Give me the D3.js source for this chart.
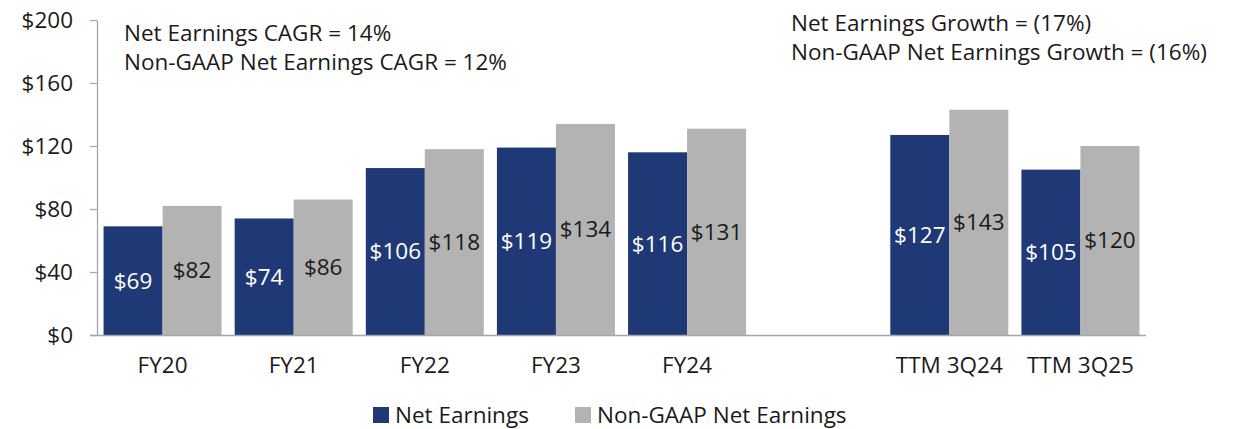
<!DOCTYPE html>
<html>
<head>
<meta charset="utf-8">
<script src="https://cdn.jsdelivr.net/npm/d3@7"></script>
<style>
  html, body { margin: 0; padding: 0; background: #fff; }
  svg { display: block; font-family: "Open Sans", sans-serif; }
</style>
</head>
<body>
<svg id="chart" width="1233" height="429"></svg>
<script>
// ---- data ----
const categories = ["FY20", "FY21", "FY22", "FY23", "FY24", "TTM 3Q24", "TTM 3Q25"];
const netEarnings = [69, 74, 106, 119, 116, 127, 105];
const nonGaapNetEarnings = [82, 86, 118, 134, 131, 143, 120];
const seriesNames = ["Net Earnings", "Non-GAAP Net Earnings"];
const yTicks = [0, 40, 80, 120, 160, 200];
const leftNotes = ["Net Earnings CAGR = 14%", "Non-GAAP Net Earnings CAGR = 12%"];
const rightNotes = ["Net Earnings Growth = (17%)", "Non-GAAP Net Earnings Growth = (16%)"];

// ---- layout ----
const svg = d3.select("#chart");
const colors = ["#1F3977", "#B3B3B3"];
const axisColor = "#A6A6A6";
const textColor = "#1A1A1A";
const fontSize = 22.5;

const GAP = "__gap__";
const xDomain = [...categories.slice(0, 5), GAP, ...categories.slice(5)];

const x = d3.scaleBand().domain(xDomain).range([97, 1146]).paddingInner(0.1).paddingOuter(0.05);
const xSub = d3.scaleBand().domain([0, 1]).range([0, x.bandwidth()]).padding(0);
const y = d3.scaleLinear().domain([0, 200]).range([335, 20]);

const rows = categories.map((c, i) => ({ cat: c, vals: [netEarnings[i], nonGaapNetEarnings[i]] }));

// bars
const groups = svg.append("g").selectAll("g").data(rows).join("g")
  .attr("transform", d => `translate(${x(d.cat)},0)`);

groups.selectAll("rect").data(d => d.vals.map((v, k) => ({ v, k }))).join("rect")
  .attr("x", d => xSub(d.k))
  .attr("width", xSub.bandwidth())
  .attr("y", d => y(d.v))
  .attr("height", d => y(0) - y(d.v))
  .attr("fill", d => colors[d.k]);

groups.selectAll("text").data(d => d.vals.map((v, k) => ({ v, k }))).join("text")
  .attr("x", d => xSub(d.k) + xSub.bandwidth() / 2)
  .attr("y", d => (y(d.v) + y(0)) / 2)
  .attr("dy", "0.35em")
  .attr("text-anchor", "middle")
  .attr("font-size", fontSize)
  .attr("fill", d => d.k === 0 ? "#FFFFFF" : textColor)
  .text(d => "$" + d.v);

// y axis
const yAxis = svg.append("g").attr("transform", "translate(97,0)")
  .call(d3.axisLeft(y).tickValues(yTicks).tickSize(7).tickSizeOuter(0).tickPadding(17).tickFormat(d => "$" + d));
yAxis.selectAll("path, line").attr("stroke", axisColor).attr("stroke-width", 1.3);
yAxis.selectAll("text").attr("font-size", fontSize).attr("fill", textColor).attr("font-family", "Open Sans, sans-serif");

// x axis
const xAxis = svg.append("g").attr("transform", `translate(0,${y(0)})`)
  .call(d3.axisBottom(x).tickSize(0).tickSizeOuter(0).tickPadding(22).tickFormat(d => d === GAP ? "" : d));
xAxis.select("path").attr("stroke", axisColor).attr("stroke-width", 1.5).attr("d", `M90,0.5H1146`);
xAxis.selectAll("text").attr("font-size", fontSize).attr("fill", textColor).attr("font-family", "Open Sans, sans-serif");

// annotations
svg.append("g").selectAll("text").data(leftNotes).join("text")
  .attr("x", 124).attr("y", (d, i) => 41 + i * 29)
  .attr("font-size", fontSize).attr("fill", textColor).text(d => d);

svg.append("g").selectAll("text").data(rightNotes).join("text")
  .attr("x", 791).attr("y", (d, i) => 31 + i * 29)
  .attr("font-size", fontSize).attr("fill", textColor).text(d => d);

// legend
const legendX = [373, 575];
const legend = svg.append("g").selectAll("g").data(seriesNames).join("g")
  .attr("transform", (d, i) => `translate(${legendX[i]},407)`);
legend.append("rect").attr("width", 16).attr("height", 16).attr("fill", (d, i) => colors[i]);
legend.append("text").attr("x", 22).attr("y", 16)
  .attr("font-size", fontSize).attr("fill", textColor).text(d => d);
</script>
</body>
</html>
